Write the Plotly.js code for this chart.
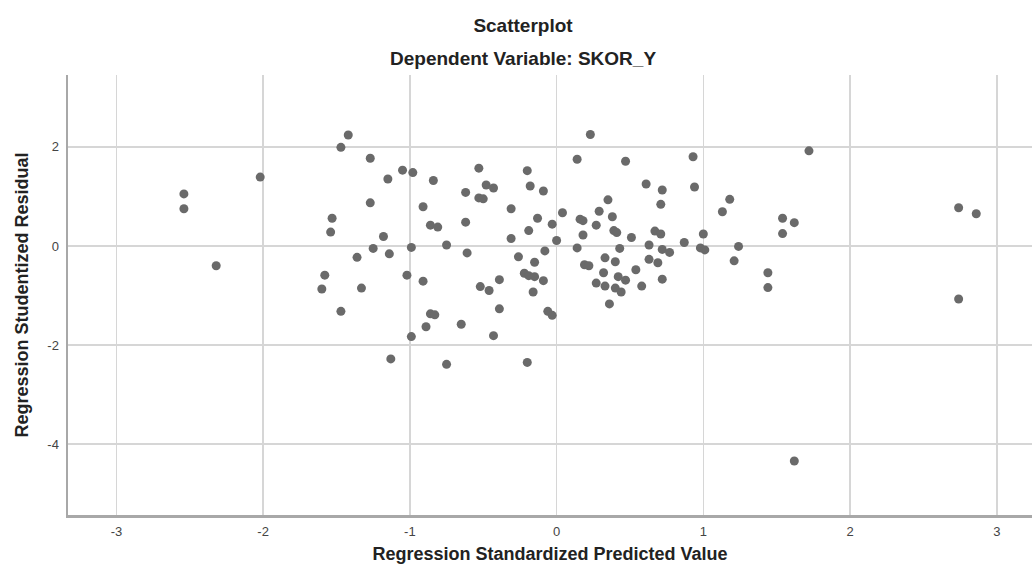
<!DOCTYPE html>
<html>
<head>
<meta charset="utf-8">
<script src="https://cdn.plot.ly/plotly-3.0.1.min.js"></script>
<style>html,body{margin:0;padding:0;background:#fff;}#chart{width:1032px;height:574px;}</style>
</head>
<body>
<div id="chart"></div>
<script>
// Regression Standardized Predicted Value (x)
var predicted = [
 -2.54,-2.54,-2.02,-2.32,-1.42,-1.47,-1.27,-1.05,-0.98,-1.15,
 -1.27,-1.53,-1.54,-1.18,-1.25,-1.14,-1.36,-0.99,-1.58,-1.60,
 -1.33,-1.02,-1.47,-0.91,-0.86,-0.83,-0.89,-0.99,-1.13,-0.75,
 -0.65,-0.52,-0.46,-0.39,-0.39,-0.43,-0.16,-0.06,-0.03,-0.20,
 -0.84,-0.53,-0.62,-0.48,-0.43,-0.53,-0.50,-0.91,-0.86,-0.81,
 -0.62,-0.75,-0.61,-0.20,-0.18,-0.09,-0.31,-0.13,-0.19,-0.03,
  0.04, 0.00,-0.31,-0.26,-0.15,-0.08,-0.22,-0.19,-0.15,-0.09,
  0.23, 0.14, 0.47, 0.61, 0.35, 0.29, 0.38, 0.16, 0.18, 0.27,
  0.18, 0.39, 0.41, 0.51, 0.14, 0.43, 0.63, 0.33, 0.40, 0.19,
  0.22, 0.32, 0.54, 0.42, 0.47, 0.27, 0.33, 0.40, 0.58, 0.63,
  0.93, 0.94, 1.72, 0.72, 0.71, 1.18, 1.13, 0.67, 0.71, 0.87,
  1.00, 0.72, 0.77, 0.98, 1.01, 1.24, 1.21, 0.69, 0.72, 1.54,
  1.62, 1.54, 1.44, 1.44, 2.74, 2.86, 2.74, 1.62, 0.36, 0.44
];
// Regression Studentized Residual (y)
var residual = [
  1.05, 0.75, 1.39,-0.40, 2.24, 1.99, 1.77, 1.53, 1.48, 1.35,
  0.87, 0.56, 0.28, 0.19,-0.05,-0.16,-0.23,-0.03,-0.59,-0.87,
 -0.85,-0.59,-1.32,-0.71,-1.37,-1.39,-1.63,-1.83,-2.28,-2.39,
 -1.58,-0.82,-0.90,-0.68,-1.27,-1.81,-0.93,-1.32,-1.40,-2.35,
  1.32, 1.57, 1.08, 1.23, 1.17, 0.97, 0.95, 0.79, 0.42, 0.38,
  0.48, 0.02,-0.14, 1.52, 1.21, 1.11, 0.75, 0.56, 0.31, 0.44,
  0.67, 0.11, 0.15,-0.22,-0.33,-0.10,-0.55,-0.60,-0.62,-0.70,
  2.25, 1.75, 1.71, 1.25, 0.93, 0.70, 0.59, 0.54, 0.51, 0.42,
  0.22, 0.31, 0.27, 0.17,-0.04,-0.05, 0.02,-0.24,-0.32,-0.38,
 -0.40,-0.54,-0.48,-0.62,-0.69,-0.75,-0.81,-0.85,-0.81,-0.27,
  1.80, 1.19, 1.92, 1.13, 0.84, 0.94, 0.69, 0.30, 0.24, 0.07,
  0.24,-0.07,-0.13,-0.04,-0.08,-0.01,-0.30,-0.34,-0.67, 0.56,
  0.47, 0.25,-0.54,-0.84, 0.77, 0.65,-1.07,-4.34,-1.17,-0.93
];
var xTicks = [-3,-2,-1,0,1,2,3];
var yTicks = [-4,-2,0,2];

var font = "Liberation Sans, Arial, sans-serif";
var trace = {
  x: predicted, y: residual, type: 'scatter', mode: 'markers',
  marker: {size: 9, color: '#6a6a6a'},
  hoverinfo: 'x+y', showlegend: false
};
var layout = {
  width: 1032, height: 574,
  margin: {l: 68, r: 0, t: 75, b: 59},
  paper_bgcolor: '#ffffff', plot_bgcolor: '#ffffff',
  font: {family: font, color: '#222'},
  title: {text: '<b>Scatterplot</b>', x: 523/1032, xref: 'container', xanchor: 'center',
          y: 1 - 25/574, yref: 'container', yanchor: 'middle',
          font: {size: 19, family: font, color: '#222'}},
  annotations: [{text: '<b>Dependent Variable: SKOR_Y</b>', xref: 'paper', yref: 'paper',
    x: (523-68)/964, y: (515-59)/440, xanchor: 'center', yanchor: 'middle', showarrow: false,
    font: {size: 19, family: font, color: '#222'}}],
  xaxis: {
    range: [-3.33, 3.24], tickvals: xTicks, ticktext: xTicks.map(String),
    showgrid: true, gridcolor: '#d6d6d6', gridwidth: 1.5,
    zeroline: false, showline: true, linecolor: '#a8a8a8', linewidth: 2.5,
    ticks: 'outside', ticklen: 3, tickcolor: 'rgba(0,0,0,0)',
    tickfont: {size: 13, color: '#444', family: font},
    title: {text: '<b>Regression Standardized Predicted Value</b>', standoff: 10,
            font: {size: 18, family: font, color: '#222'}}
  },
  yaxis: {
    range: [-5.43, 3.45], tickvals: yTicks, ticktext: yTicks.map(String),
    showgrid: true, gridcolor: '#d6d6d6', gridwidth: 1.5,
    zeroline: false, showline: true, linecolor: '#a8a8a8', linewidth: 2.5,
    ticks: 'outside', ticklen: 4, tickcolor: 'rgba(0,0,0,0)',
    tickfont: {size: 13, color: '#444', family: font},
    title: {text: '<b>Regression Studentized Residual</b>', standoff: 14,
            font: {size: 18, family: font, color: '#222'}}
  }
};
Plotly.newPlot('chart', [trace], layout, {displayModeBar: false, staticPlot: true});
</script>
</body>
</html>
